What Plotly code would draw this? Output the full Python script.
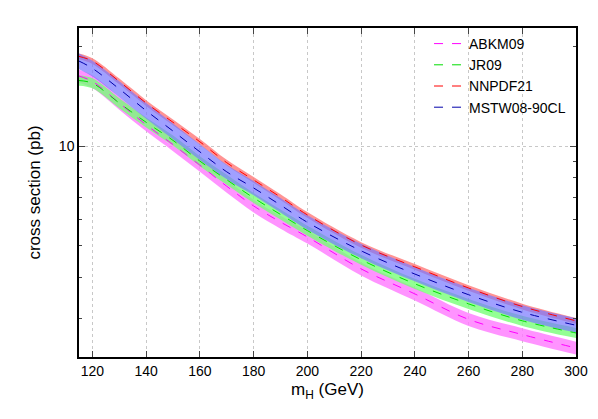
import plotly.graph_objects as go

mh = [115,120,130,140,150,160,170,180,190,200,220,240,260,280,300]
mstw  = [18.1,17.2,14.9,12.8,11.1,9.6,8.35,7.46,6.62,5.87,4.81,4.09,3.54,3.13,2.86]
nnpdf = [18.7,18.1,15.7,13.5,11.8,10.3,8.9,7.89,7.0,6.18,5.01,4.30,3.71,3.26,2.95]
jr09  = [15.8,15.5,13.5,11.8,10.4,9.0,7.9,6.96,6.2,5.54,4.52,3.82,3.32,2.95,2.71]
abkm  = [16.3,15.7,13.5,11.6,10.1,8.75,7.55,6.58,5.88,5.30,4.24,3.56,2.98,2.68,2.44]
# band half-widths (fraction of central value)
mstw_w  = [0.055,0.055,0.055,0.055,0.055,0.055,0.05,0.05,0.05,0.05,0.05,0.05,0.05,0.05,0.05]
nnpdf_w = [0.02,0.02,0.02,0.02,0.02,0.02,0.02,0.02,0.02,0.02,0.02,0.02,0.02,0.02,0.02]
jr09_w  = [0.035,0.035,0.035,0.035,0.035,0.035,0.035,0.035,0.035,0.035,0.035,0.035,0.035,0.035,0.035]
abkm_w  = [0.045,0.045,0.045,0.045,0.045,0.045,0.045,0.045,0.045,0.045,0.045,0.045,0.045,0.045,0.045]

sets = [
    ("ABKM09", abkm, abkm_w, "#ff00ff", "rgba(255,120,255,0.8)", 4),
    ("JR09", jr09, jr09_w, "#00dd00", "rgba(120,255,120,0.8)", 3),
    ("NNPDF21", nnpdf, nnpdf_w, "#ff0000", "rgba(255,120,120,0.8)", 2),
    ("MSTW08-90CL", mstw, mstw_w, "#0000aa", "rgba(120,120,255,0.7)", 1),
]

fig = go.Figure()
for name, c, w, lc, fc, rk in sets:
    lo = [v * (1 - d) for v, d in zip(c, w)]
    hi = [v * (1 + d) for v, d in zip(c, w)]
    fig.add_trace(go.Scatter(x=mh, y=lo, mode="lines", line=dict(width=0, shape="spline"),
                             showlegend=False, hoverinfo="skip"))
    fig.add_trace(go.Scatter(x=mh, y=hi, mode="lines", line=dict(width=0, shape="spline"),
                             fill="tonexty", fillcolor=fc, showlegend=False, hoverinfo="skip"))
for name, c, w, lc, fc, rk in sets:
    fig.add_trace(go.Scatter(x=mh, y=c, mode="lines", name=name, legendrank=rk,
                             line=dict(color=lc, width=1, dash="dash", shape="spline")))

fig.update_layout(
    width=598, height=419, margin=dict(l=71, r=30, t=20, b=70),
    paper_bgcolor="white", plot_bgcolor="white",
    font=dict(family="Liberation Sans, Arial", size=14, color="black"),
    legend=dict(x=0.99, y=1.0, xanchor="right", yanchor="top", bgcolor="rgba(0,0,0,0)",
                font=dict(size=14), tracegroupgap=0, itemwidth=30),
    xaxis=dict(range=[115, 300], tickvals=[120,140,160,180,200,220,240,260,280,300],
               showgrid=True, gridcolor="#c8c8c8", griddash="dot", gridwidth=1,
               ticks="inside", ticklen=6,
               showline=True, linecolor="black", linewidth=1.5, mirror="ticks", zeroline=False,
               title=dict(text="m<sub>H</sub> (GeV)", standoff=6)),
    yaxis=dict(type="log", range=[0.36, 1.358], tickvals=[10], ticktext=["10"],
               showgrid=True, gridcolor="#c8c8c8", griddash="dot", gridwidth=1,
               ticks="inside", ticklen=6,
               showline=True, linecolor="black", linewidth=1.5, mirror="ticks", zeroline=False,
               minor=dict(tickvals=[3,4,5,6,7,8,9,20], ticks="inside", ticklen=3, showgrid=False),
               title=dict(text="cross section (pb)", standoff=14)),
)
fig.write_html("out.html")
